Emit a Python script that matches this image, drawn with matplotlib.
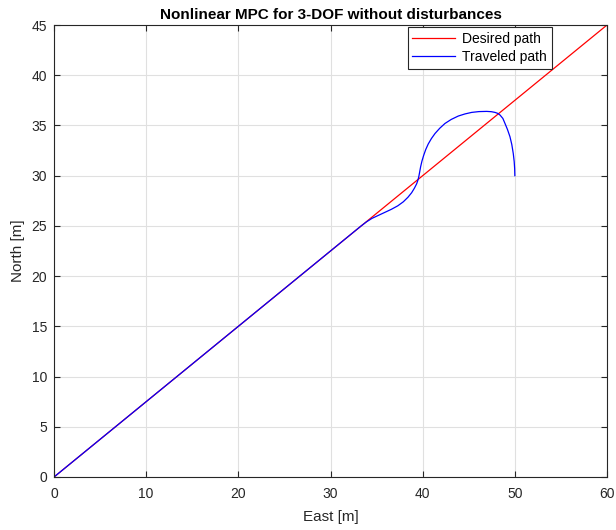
import matplotlib.pyplot as plt

plt.rcParams['font.family'] = ['Liberation Sans', 'DejaVu Sans']

# Desired path (straight line)
desired_east = [0, 60]
desired_north = [0, 45]

# Traveled path
traveled_east = [0, 33.3, 33.9, 34.5, 35.2, 35.9, 36.6, 37.3, 37.9, 38.4, 38.8,
                 39.1, 39.35, 39.5, 39.6, 39.68, 39.78, 39.92, 40.1, 40.33,
                 40.6, 40.95, 41.34, 41.85, 42.42, 43.1, 43.87, 44.6, 45.32,
                 46.1, 46.95, 47.45, 47.85, 48.15, 48.39, 48.7, 48.93, 49.2,
                 49.47, 49.67, 49.83, 49.93, 49.98, 50.0]
traveled_north = [0, 24.98, 25.4, 25.75, 26.05, 26.35, 26.65, 27.0, 27.4, 27.85, 28.3,
                  28.75, 29.2, 29.6, 30.0, 30.4, 30.9, 31.45, 32.0, 32.6,
                  33.15, 33.7, 34.2, 34.72, 35.2, 35.6, 35.94, 36.15, 36.3,
                  36.38, 36.4, 36.37, 36.3, 36.2, 36.04, 35.7, 35.2, 34.6,
                  33.88, 33.1, 32.2, 31.4, 30.7, 30.0]

fig = plt.figure(figsize=(6.16, 5.30), dpi=100)
ax = fig.add_axes([0.0877, 0.1, 0.8977, 0.8528])

ax.plot(desired_east, desired_north, color='red', lw=0.9, label='Desired path')
ax.plot(traveled_east, traveled_north, color='blue', lw=0.9, label='Traveled path')

ax.set_xlim(0, 60)
ax.set_ylim(0, 45)
ax.set_xticks(range(0, 61, 10))
ax.set_yticks(range(0, 46, 5))
ax.grid(True, color='#e0e0e0', lw=0.8)
ax.set_axisbelow(True)
ax.tick_params(direction='in', length=4, labelsize=10, top=True, right=True,
               labeltop=False, labelright=False, color='#262626', labelcolor='#262626')
ax.tick_params(axis='x', pad=7)
ax.tick_params(axis='y', pad=5)
for s in ax.spines.values():
    s.set_color('#262626')
    s.set_linewidth(0.8)

ax.set_xlabel('East [m]', fontsize=11, color='#262626', labelpad=7)
ax.set_ylabel('North [m]', fontsize=11, color='#262626', labelpad=5)
ax.set_title('Nonlinear MPC for 3-DOF without disturbances', fontsize=11,
             fontweight='bold', pad=4)

leg = ax.legend(loc='upper right', bbox_to_anchor=(0.9005, 0.9956), fontsize=10,
                fancybox=False, framealpha=1, edgecolor='#262626',
                borderpad=0.35, labelspacing=0.3, handlelength=3.1, handletextpad=0.5,
                borderaxespad=0)
leg.get_frame().set_linewidth(0.8)

fig.savefig('out.png', dpi=100)
